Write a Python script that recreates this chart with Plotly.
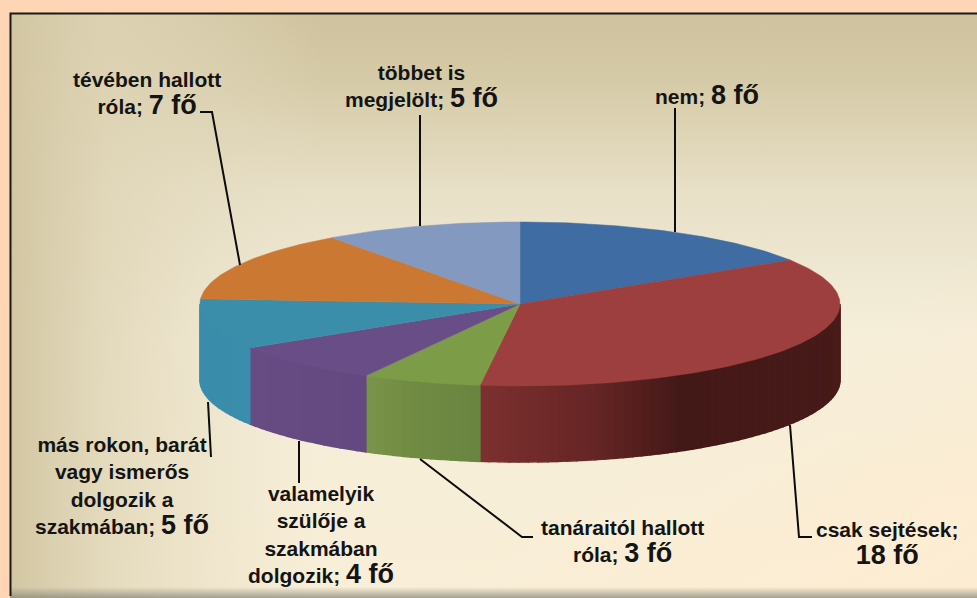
import base64
import numpy as np
import plotly.graph_objects as go

categories = ["nem", "csak sejtések", "tanáraitól hallott róla", "valamelyik szülője a szakmában dolgozik",
              "más rokon, barát vagy ismerős dolgozik a szakmában", "tévében hallott róla", "többet is megjelölt"]
values = [8, 18, 3, 4, 5, 7, 5]
top_colors = ["#3f6ca3", "#9c3f3e", "#7c9c48", "#694d86", "#3a8ea9", "#cb7833", "#8399bf"]
wall_stops = [
    [(0, "#3f6ca3"), (1, "#3f6ca3")],
    [(0, "#4c1c1a"), (0.2, "#461a18"), (0.62, "#431917"), (0.78, "#642524"), (1, "#7c302f")],
    [(0, "#6a8540"), (0.5, "#6f8a42"), (1, "#7a9448")],
    [(0, "#644981"), (1, "#674c84")],
    [(0, "#3a8dab"), (1, "#3a8dab")],
    [(0, "#cb7833"), (1, "#cb7833")],
    [(0, "#8399bf"), (1, "#8399bf")],
]
NUM = "<span style='font-size:27px'>%s</span>"
label_text = [
    "nem; " + NUM % "8 fő",
    "csak sejtések;<br>" + NUM % "18 fő",
    "tanáraitól hallott<br>róla; " + NUM % "3 fő",
    "valamelyik<br>szülője a<br>szakmában<br>dolgozik; " + NUM % "4 fő",
    "más rokon, barát<br>vagy ismerős<br>dolgozik a<br>szakmában; " + NUM % "5 fő",
    "tévében hallott<br>róla; " + NUM % "7 fő",
    "többet is<br>megjelölt; " + NUM % "5 fő",
]
label_pos = [(707, 95), (887, 544), (622, 542), (321, 535), (122, 486), (147, 94), (421, 87)]
leaders = [
    [(675, 108), (675, 232)],
    [(790, 425), (799, 537), (812, 537)],
    [(420, 459), (522, 537), (533, 537)],
    [(299, 441), (299, 483)],
    [(208, 402), (211, 457)],
    [(200, 112), (212, 112), (240, 265)],
    [(420, 115), (420, 226)],
]

CX, CY, RX, RY, DEPTH = 520, 304, 320, 82, 76


def ex(t):
    return CX + RX * np.sin(t)


def ey(t):
    return CY - RY * np.cos(t)


def mix(stops, f):
    for (a, ca), (b, cb) in zip(stops, stops[1:]):
        if f <= b:
            k = (f - a) / (b - a)
            ra = [int(ca[i:i + 2], 16) for i in (1, 3, 5)]
            rb = [int(cb[i:i + 2], 16) for i in (1, 3, 5)]
            return "#%02x%02x%02x" % tuple(round(p + (q - p) * k) for p, q in zip(ra, rb))
    return stops[-1][1]


svg = """<svg xmlns='http://www.w3.org/2000/svg' width='967' height='585' preserveAspectRatio='none'>
<defs>
<linearGradient id='v' x1='0' y1='0' x2='0' y2='1'>
<stop offset='0' stop-color='#cfc29d'/><stop offset='0.12' stop-color='#d6cba8'/>
<stop offset='0.3' stop-color='#e7dfc6'/><stop offset='0.55' stop-color='#f5eeda'/>
<stop offset='1' stop-color='#f9eed7'/></linearGradient>
<linearGradient id='h' x1='0' y1='0' x2='1' y2='0'>
<stop offset='0' stop-color='#d2c6a2' stop-opacity='1'/><stop offset='0.1' stop-color='#dfd5b6' stop-opacity='0.8'/>
<stop offset='0.32' stop-color='#e6dec5' stop-opacity='0'/></linearGradient>
<linearGradient id='b' x1='0' y1='0' x2='0' y2='1'>
<stop offset='0' stop-color='#8a8678' stop-opacity='0'/><stop offset='1' stop-color='#8a8678' stop-opacity='0.75'/></linearGradient>
<linearGradient id='r' x1='0' y1='0' x2='1' y2='1'>
<stop offset='0.7' stop-color='#feecd0' stop-opacity='0'/><stop offset='1' stop-color='#feecd0' stop-opacity='0.9'/></linearGradient>
</defs>
<rect width='967' height='585' fill='url(#v)'/>
<rect width='967' height='585' fill='url(#r)'/>
<rect width='967' height='585' fill='url(#h)'/>
<rect y='574' width='967' height='11' fill='url(#b)'/>
</svg>"""
src = "data:image/svg+xml;base64," + base64.b64encode(svg.encode()).decode()

fig = go.Figure()

fracs = np.cumsum([0] + values) / sum(values) * 2 * np.pi

# walls (front half only)
for i, v in enumerate(values):
    a, b = max(fracs[i], 0), min(fracs[i + 1], 2 * np.pi)
    lo, hi = max(a, np.pi / 2), min(b, 3 * np.pi / 2)
    if hi <= lo:
        continue
    n = max(2, int((hi - lo) / 0.03))
    edges = np.linspace(lo, hi, n + 1)
    for s, e in zip(edges[:-1], edges[1:]):
        mid = (s + e) / 2
        col = mix(wall_stops[i], (mid - lo) / (hi - lo))
        tt = np.array([s, e])
        xs = list(ex(tt)) + list(ex(tt[::-1]))
        ys = list(ey(tt)) + list(ey(tt[::-1]) + DEPTH)
        fig.add_trace(go.Scatter(x=xs + xs[:1], y=ys + ys[:1], mode="lines", fill="toself",
                                 fillcolor=col, line=dict(color=col, width=1.5), hoverinfo="skip", showlegend=False))

# top faces
for i, (cat, v) in enumerate(zip(categories, values)):
    tt = np.linspace(fracs[i], fracs[i + 1], max(8, int(v * 8)))
    xs = [CX] + list(ex(tt)) + [CX]
    ys = [CY] + list(ey(tt)) + [CY]
    fig.add_trace(go.Scatter(x=xs, y=ys, mode="lines", fill="toself", fillcolor=top_colors[i],
                             line=dict(color=top_colors[i], width=0.5), name=cat, text=cat,
                             hoverinfo="text", showlegend=False))

shapes = []
for pts in leaders:
    path = "M " + " L ".join(f"{x} {y}" for x, y in pts)
    shapes.append(dict(type="path", path=path, line=dict(color="#0c0c0c", width=2), layer="above"))
# black frame of the panel
shapes.append(dict(type="path", path="M 10.5 596 L 10.5 13.5 L 977 13.5", line=dict(color="#1a1a1a", width=2), layer="above"))

annotations = [
    dict(x=x, y=y, text=t, showarrow=False, xref="x", yref="y", xanchor="center", yanchor="middle",
         align="center", font=dict(family="Liberation Sans", size=21, color="#141414", weight="bold"))
    for t, (x, y) in zip(label_text, label_pos)
]

fig.update_layout(
    width=977, height=598, margin=dict(l=0, r=0, t=0, b=0),
    paper_bgcolor="#fed5b5", plot_bgcolor="rgba(0,0,0,0)", showlegend=False,
    xaxis=dict(range=[0, 977], visible=False, fixedrange=True),
    yaxis=dict(range=[598, 0], visible=False, fixedrange=True),
    images=[dict(source=src, xref="x", yref="y", x=10, y=13, sizex=967, sizey=585,
                 sizing="stretch", layer="below", xanchor="left", yanchor="top")],
    shapes=shapes, annotations=annotations,
)
fig.write_html("out.html", config=dict(displayModeBar=False),
               post_script="document.body.style.margin='0';document.documentElement.style.overflow='hidden';")
